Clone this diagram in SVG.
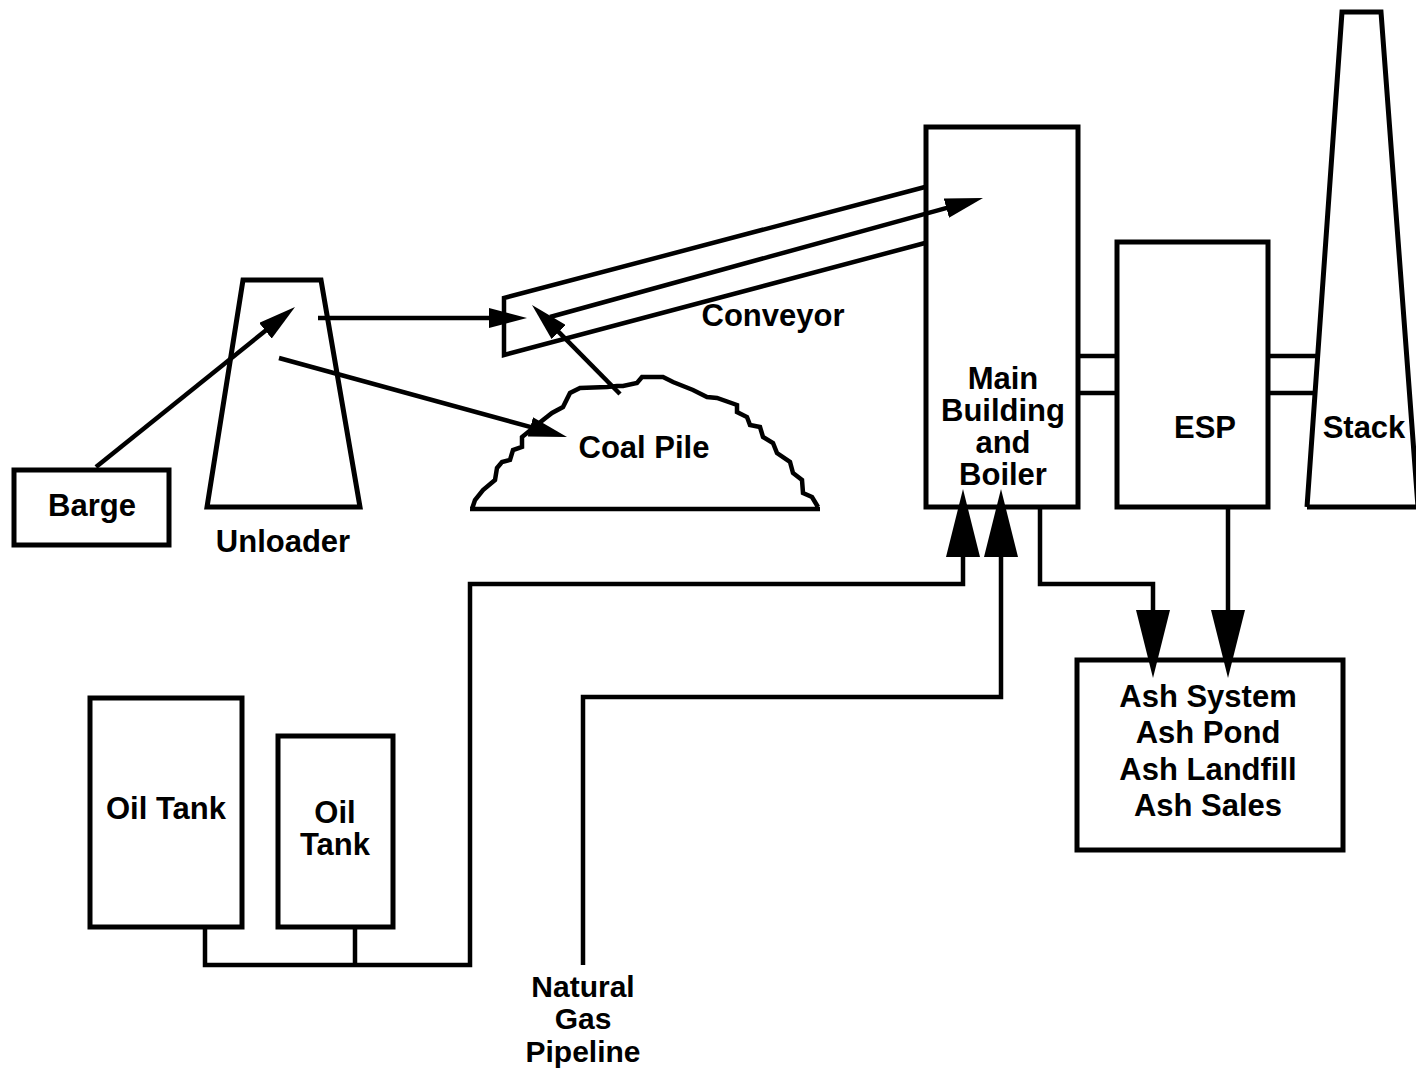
<svg xmlns="http://www.w3.org/2000/svg" width="1416" height="1069" viewBox="0 0 1416 1069">
<style>
.box{fill:none;stroke:#000;stroke-width:5;stroke-linejoin:miter}
.ln{fill:none;stroke:#000;stroke-width:4.5;stroke-linejoin:miter}
.arr{marker-end:url(#ah)}
.big{marker-end:url(#bh)}
text{font-family:"Liberation Sans",Arial,Helvetica,sans-serif;font-weight:bold;font-size:31px;fill:#000;text-anchor:middle}
.sm{font-size:30px}
</style>
<defs>
<marker id="ah" markerUnits="userSpaceOnUse" viewBox="0 0 38 20" refX="10" refY="10" markerWidth="38" markerHeight="20" orient="auto">
<path d="M0,0 L38,10 L0,20 z" fill="#000"/>
</marker>
<marker id="bh" markerUnits="userSpaceOnUse" viewBox="0 0 68 34" refX="20" refY="17" markerWidth="68" markerHeight="34" orient="auto">
<path d="M0,0 L68,17 L0,34 z" fill="#000"/>
</marker>
</defs>
<rect width="1416" height="1069" fill="#fff"/>

<g id="barge">
<rect class="box" x="14" y="470" width="155" height="75"/>
<text x="92" y="516">Barge</text>
</g>

<g id="unloader">
<polygon class="box" points="243,280 321,280 360,507 207,507"/>
<text x="283" y="552">Unloader</text>
</g>

<g id="conveyor">
<polyline class="ln" points="925,187 504,298 504,355 925,243"/>
<text x="773" y="326">Conveyor</text>
</g>

<g id="coal-pile">
<path class="ln" d="M470,509 L820,509 M472,509 L475,500 L483,490 L495,480 L497,468 L502,462 L510,460 L513,450 L522,447 L522,437 L527,433 L543,420 L552,413 L563,407 L570,393 L580,388 L607,387 L617,386 L623,386 L637,383 L642,377 L663,377 L673,382 L693,390 L707,397 L717,398 L737,405 L737,412 L747,417 L750,425 L760,427 L763,437 L773,443 L777,453 L790,462 L793,473 L802,480 L803,493 L812,497 L818,507"/>
<text x="644" y="458">Coal Pile</text>
</g>

<g id="main-building">
<rect class="box" x="926" y="127" width="152" height="380"/>
<text x="1003" y="389">Main</text>
<text x="1003" y="421">Building</text>
<text x="1003" y="453">and</text>
<text x="1003" y="485">Boiler</text>
</g>

<g id="esp">
<rect class="box" x="1117" y="242" width="151" height="265"/>
<text x="1205" y="438">ESP</text>
</g>

<g id="stack">
<polyline class="box" points="1307,507 1342,12 1381,12 1418,507"/>
<line class="box" x1="1307" y1="507" x2="1420" y2="507"/>
<text x="1364" y="438">Stack</text>
</g>

<g id="ash-system">
<rect class="box" x="1077" y="660" width="266" height="190"/>
<text x="1208" y="707">Ash System</text>
<text x="1208" y="743">Ash Pond</text>
<text x="1208" y="780">Ash Landfill</text>
<text x="1208" y="816">Ash Sales</text>
</g>

<g id="oil-tank-1">
<rect class="box" x="90" y="698" width="152" height="229"/>
<text x="166" y="819">Oil Tank</text>
</g>

<g id="oil-tank-2">
<rect class="box" x="278" y="736" width="115" height="191"/>
<text x="335" y="823">Oil</text>
<text x="335" y="855">Tank</text>
</g>

<g id="natural-gas">
<text class="sm" x="583" y="997">Natural</text>
<text class="sm" x="583" y="1029">Gas</text>
<text class="sm" x="583" y="1062">Pipeline</text>
</g>

<g id="connectors">
<line class="ln arr" x1="96" y1="467" x2="273.2" y2="324.5"/>
<line class="ln arr" x1="318" y1="318" x2="499" y2="318"/>
<line class="ln arr" x1="279" y1="358" x2="540" y2="429.6"/>
<line class="ln arr" x1="620" y1="394" x2="551.7" y2="324.9"/>
<line class="ln arr" x1="550" y1="317" x2="956" y2="205.4"/>
<line class="ln" x1="1078" y1="356" x2="1117" y2="356"/>
<line class="ln" x1="1078" y1="393" x2="1117" y2="393"/>
<line class="ln" x1="1268" y1="356" x2="1316" y2="356"/>
<line class="ln" x1="1268" y1="393" x2="1313" y2="393"/>
<path class="ln big" d="M205,927 V965 H470 V584 H963 V537"/>
<line class="ln" x1="355" y1="927" x2="355" y2="965"/>
<path class="ln big" d="M583,965 V697 H1001 V537"/>
<path class="ln big" d="M1040,507 V584 H1153 V630"/>
<path class="ln big" d="M1228,507 V630"/>
</g>
</svg>
